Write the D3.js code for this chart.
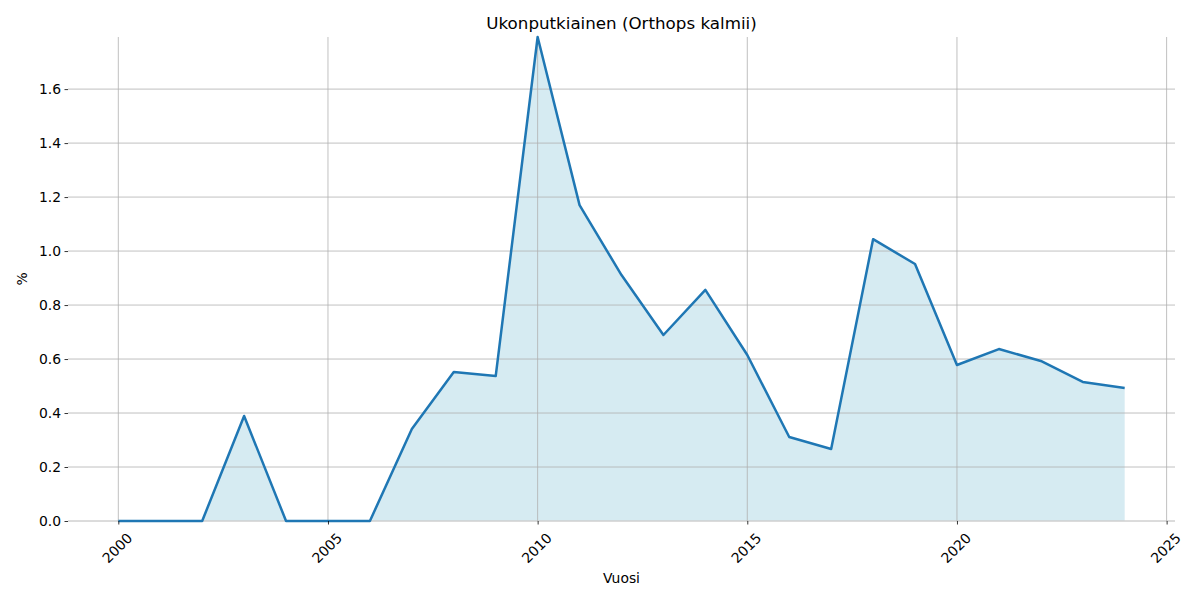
<!DOCTYPE html>
<html><head><meta charset="utf-8">
<script src="https://cdn.jsdelivr.net/npm/d3@7"></script>
<style>body{margin:0;background:#fff}svg{display:block}text{font-family:"DejaVu Sans",sans-serif}</style>
</head><body>
<svg id="c" width="1200" height="600"></svg>
<script>
const years = [2000,2001,2002,2003,2004,2005,2006,2007,2008,2009,2010,2011,2012,2013,2014,2015,2016,2017,2018,2019,2020,2021,2022,2023,2024];
const values = [0,0,0,0.389,0,0,0,0.341,0.552,0.537,1.793,1.170,0.911,0.689,0.856,0.615,0.311,0.267,1.044,0.952,0.578,0.637,0.593,0.515,0.493];
const xTicks = [2000,2005,2010,2015,2020,2025];
const yTicks = [0,0.2,0.4,0.6,0.8,1.0,1.2,1.4,1.6];
const title = "Ukonputkiainen (Orthops kalmii)";
const xLabel = "Vuosi", yLabel = "%";

const L=68,R=1175,T=37,B=521;
const svg=d3.select("#c");
const x=d3.scaleLinear().domain([1998.8,2025.2]).range([L,R]);
const y=d3.scaleLinear().domain([0,d3.max(values)]).range([B,T]);

const data=years.map((d,i)=>({x:d,y:values[i]}));
svg.append("path").datum(data)
 .attr("d",d3.area().x(d=>x(d.x)).y0(y(0)).y1(d=>y(d.y)))
 .attr("fill","#add8e6").attr("fill-opacity",0.5);
// faint bottom spine
svg.append("line").attr("x1",L).attr("x2",R).attr("y1",B).attr("y2",B).attr("stroke","#f2f2f2").attr("stroke-width",1);

// grid
svg.append("g").selectAll("line").data(yTicks).join("line")
 .attr("x1",L).attr("x2",R).attr("y1",d=>y(d)).attr("y2",d=>y(d))
 .attr("stroke","#b0b0b0").attr("stroke-width",0.8);
svg.append("g").selectAll("line").data(xTicks).join("line")
 .attr("y1",T).attr("y2",B).attr("x1",d=>x(d)).attr("x2",d=>x(d))
 .attr("stroke","#b0b0b0").attr("stroke-width",0.8);

svg.append("path").datum(data)
 .attr("d",d3.line().x(d=>x(d.x)).y(d=>y(d.y)))
 .attr("fill","none").attr("stroke","#1f77b4").attr("stroke-width",2.5).attr("stroke-linejoin","round");

// axes
const xa=svg.append("g").attr("transform",`translate(0,${B})`)
 .call(d3.axisBottom(x).tickValues(xTicks).tickFormat(d3.format("d")).tickSize(3.5).tickPadding(3.5));
xa.select(".domain").remove();
xa.selectAll("text").attr("font-size",13.9).attr("fill","#000")
 .attr("text-anchor","middle").attr("dy",null).attr("y",0)
 .attr("transform","translate(-1.5,27) rotate(-45)").attr("dominant-baseline","central");
const ya=svg.append("g").attr("transform",`translate(${L},0)`)
 .call(d3.axisLeft(y).tickValues(yTicks).tickFormat(d3.format(".1f")).tickSize(3.5).tickPadding(3.5));
ya.select(".domain").remove();
ya.selectAll("text").attr("font-size",13.9).attr("fill","#000");
svg.selectAll(".tick line").attr("stroke","#000").attr("stroke-width",0.8);

svg.append("text").attr("x",(L+R)/2).attr("y",23).attr("text-anchor","middle").attr("dominant-baseline","central")
 .attr("font-size",16.7).text(title);
svg.append("text").attr("x",(L+R)/2).attr("y",578).attr("text-anchor","middle").attr("dominant-baseline","central")
 .attr("font-size",13.9).text(xLabel);
svg.append("text").attr("transform",`translate(22,${(T+B)/2}) rotate(-90)`).attr("text-anchor","middle").attr("dominant-baseline","central")
 .attr("font-size",13.9).text(yLabel);
</script>
</body></html>
